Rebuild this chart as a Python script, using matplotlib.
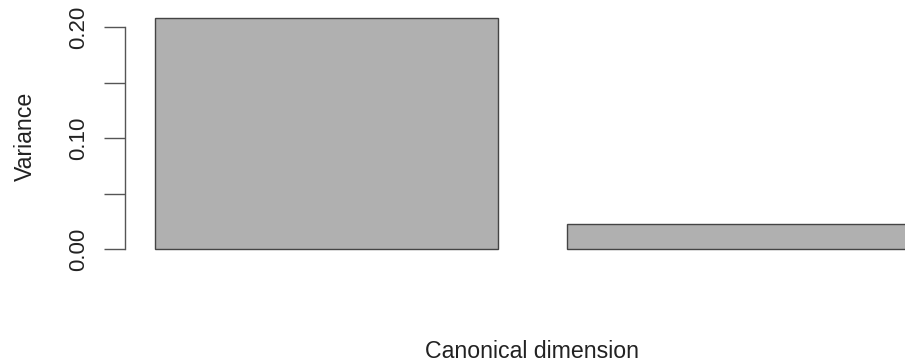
import numpy as np
import matplotlib.pyplot as plt

plt.rcParams['font.family'] = ['Liberation Sans', 'DejaVu Sans']

# variance explained by each canonical dimension
dimensions = ['1', '2']
variance = [0.2087, 0.0223]
y_ticks = [0.00, 0.05, 0.10, 0.15, 0.20]
y_tick_labels = ['0.00', '', '0.10', '', '0.20']

W, H = 905, 362
fig = plt.figure(figsize=(W / 100, H / 100), dpi=100)

# plot region in pixels (extends past the right edge of the figure)
left, right, top, bottom = 125, 940, 8.3, 258.3
ax = fig.add_axes([left / W, 1 - bottom / H, (right - left) / W, (bottom - top) / H])

# barplot layout: width 1, space 0.2
bar_width = 1.0
space = 0.2
x_left = [space + i * (bar_width + space) for i in range(len(variance))]
ax.bar(x_left, variance, width=bar_width, align='edge',
       color='#b0b0b0', edgecolor='#444444', linewidth=1.0)

x_lo = space
x_hi = x_left[-1] + bar_width
pad_x = 0.04 * (x_hi - x_lo)
ax.set_xlim(x_lo - pad_x, x_hi + pad_x)
ymax = max(variance)
ax.set_ylim(-0.04 * ymax, ymax * 1.04)

for side in ['top', 'right', 'bottom']:
    ax.spines[side].set_visible(False)
ax.spines['left'].set_bounds(0, 0.20)
ax.spines['left'].set_color('#555555')
ax.spines['left'].set_linewidth(1.0)

ax.set_xticks([])
ax.set_yticks(y_ticks)
ax.set_yticklabels(y_tick_labels, rotation=90, va='center', fontsize=16, color='#222222')
ax.tick_params(axis='y', length=15, width=1.0, color='#555555', pad=11)

fig.text(25.5 / W, 1 - 136 / H, 'Variance', rotation=90, ha='center', va='center',
         fontsize=16.7, color='#222222')
fig.text(532 / W, 1 - 351 / H, 'Canonical dimension', ha='center', va='center',
         fontsize=16.7, color='#222222')

fig.savefig('out.png', dpi=100)
